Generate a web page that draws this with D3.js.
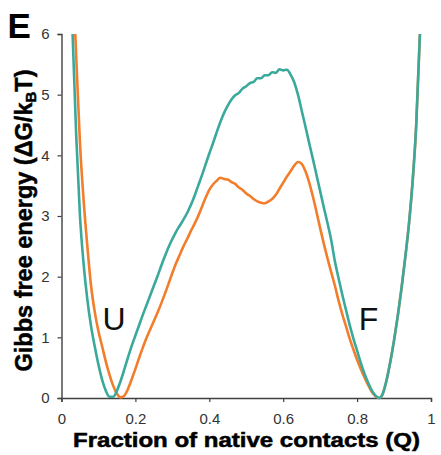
<!DOCTYPE html>
<html>
<head>
<meta charset="utf-8">
<script src="https://cdn.jsdelivr.net/npm/d3@7"></script>
<style>
  html, body { margin: 0; padding: 0; background: #fff; }
  svg { display: block; }
</style>
</head>
<body>
<svg id="chart" width="441" height="455"></svg>
<script>
// Fraction of native contacts (Q) sampled along the reaction coordinate
const fractionQ = [
  0.03, 0.04, 0.05, 0.06, 0.07, 0.08, 0.09, 0.10, 0.11, 0.12,
  0.13, 0.14, 0.15, 0.16, 0.17, 0.18, 0.19, 0.20, 0.21, 0.22,
  0.23, 0.24, 0.25, 0.26, 0.27, 0.28, 0.29, 0.30, 0.31, 0.32,
  0.33, 0.34, 0.35, 0.36, 0.37, 0.38, 0.39, 0.40, 0.41, 0.42,
  0.43, 0.44, 0.45, 0.46, 0.47, 0.48, 0.49, 0.50, 0.51, 0.52,
  0.53, 0.54, 0.55, 0.56, 0.57, 0.58, 0.59, 0.60, 0.61, 0.62,
  0.63, 0.64, 0.65, 0.66, 0.67, 0.68, 0.69, 0.70, 0.71, 0.72,
  0.73, 0.74, 0.75, 0.76, 0.77, 0.78, 0.79, 0.80, 0.81, 0.82,
  0.83, 0.84, 0.85, 0.86, 0.87, 0.88, 0.89, 0.90, 0.91, 0.92,
  0.93, 0.94, 0.95, 0.96, 0.97
];

// Free-energy profile, higher single barrier (teal)
const energyTeal = [
  6.00, 4.30, 3.00, 2.20, 1.62, 1.18, 0.85, 0.55, 0.30, 0.12,
  0.02, 0.02, 0.12, 0.28, 0.47, 0.67, 0.86, 1.03, 1.20, 1.37,
  1.53, 1.69, 1.85, 2.01, 2.18, 2.34, 2.49, 2.62, 2.74, 2.84,
  2.94, 3.05, 3.18, 3.33, 3.50, 3.67, 3.85, 4.03, 4.20, 4.38,
  4.55, 4.70, 4.82, 4.92, 4.99, 5.03, 5.10, 5.14, 5.19, 5.21,
  5.27, 5.27, 5.32, 5.32, 5.37, 5.36, 5.42, 5.40, 5.41, 5.33,
  5.20, 5.00, 4.74, 4.48, 4.21, 3.95, 3.68, 3.41, 3.14, 2.88,
  2.60, 2.25, 1.97, 1.70, 1.45, 1.20, 0.98, 0.78, 0.58, 0.40,
  0.25, 0.12, 0.04, 0.00, 0.08, 0.30, 0.60, 0.95, 1.35, 1.80,
  2.30, 2.85, 3.55, 4.50, 6.00
];

// Free-energy profile with an intermediate between two barriers (orange)
const energyOrange = [
  7.10, 5.60, 4.20, 3.25, 2.50, 1.85, 1.42, 1.10, 0.85, 0.60,
  0.38, 0.20, 0.07, 0.01, 0.04, 0.15, 0.31, 0.48, 0.66, 0.83,
  0.99, 1.13, 1.27, 1.41, 1.56, 1.72, 1.89, 2.06, 2.22, 2.36,
  2.50, 2.62, 2.75, 2.87, 3.00, 3.15, 3.30, 3.43, 3.52, 3.58,
  3.63, 3.61, 3.60, 3.56, 3.53, 3.47, 3.43, 3.37, 3.33, 3.28,
  3.24, 3.22, 3.21, 3.24, 3.28, 3.35, 3.45, 3.55, 3.65, 3.74,
  3.83, 3.89, 3.86, 3.74, 3.56, 3.33, 3.07, 2.80, 2.54, 2.30,
  2.07, 1.85, 1.60, 1.38, 1.18, 0.98, 0.80, 0.63, 0.48, 0.34,
  0.21, 0.10, 0.03, 0.00, 0.08, 0.30, 0.60, 0.95, 1.35, 1.80,
  2.30, 2.85, 3.55, 4.50, 6.00
];

const xTicks = [0, 0.2, 0.4, 0.6, 0.8, 1];
const xTickLabels = ["0", "0.2", "0.4", "0.6", "0.8", "1"];
const yTicks = [0, 1, 2, 3, 4, 5, 6];

const stateLabels = [
  { text: "U", q: 0.142 },
  { text: "F", q: 0.831 }
];

const svg = d3.select("#chart");
const W = 441, H = 455;
const plot = { left: 61.5, right: 431, top: 34, bottom: 398 };

svg.append("rect").attr("width", W).attr("height", H).attr("fill", "#fff");

const x = d3.scaleLinear().domain([0, 1]).range([plot.left, plot.right]);
const y = d3.scaleLinear().domain([0, 6]).range([plot.bottom, plot.top]);

svg.append("defs").append("clipPath").attr("id", "plotClip")
  .append("rect")
  .attr("x", plot.left).attr("y", plot.top)
  .attr("width", plot.right - plot.left).attr("height", plot.bottom - plot.top + 2);

const axisColor = "#404040";
const tickFont = "Liberation Sans, Arial, sans-serif";

// y axis
const yAxis = svg.append("g")
  .attr("transform", `translate(${plot.left},0)`)
  .call(d3.axisLeft(y).tickValues(yTicks).tickFormat(d3.format("d")).tickSize(4).tickPadding(8));
yAxis.select(".domain").attr("stroke", axisColor).attr("stroke-width", 1.4);
yAxis.selectAll(".tick line").attr("stroke", axisColor).attr("stroke-width", 1.2);
yAxis.selectAll(".tick text")
  .attr("fill", "#333").attr("font-family", tickFont).attr("font-size", 15);

// x axis
const xAxis = svg.append("g")
  .attr("transform", `translate(0,${plot.bottom})`)
  .call(d3.axisBottom(x).tickValues(xTicks)
    .tickFormat((d, i) => xTickLabels[i]).tickSize(4).tickPadding(11));
xAxis.select(".domain").attr("stroke", axisColor).attr("stroke-width", 1.4);
xAxis.selectAll(".tick line").attr("stroke", axisColor).attr("stroke-width", 1.2);
xAxis.selectAll(".tick text")
  .attr("fill", "#333").attr("font-family", tickFont).attr("font-size", 15);

// energy curves
const line = d3.line()
  .x((d, i) => x(fractionQ[i]))
  .y(d => y(d))
  .curve(d3.curveMonotoneX);

const curves = svg.append("g").attr("clip-path", "url(#plotClip)");
curves.append("path")
  .datum(energyOrange)
  .attr("d", line)
  .attr("fill", "none")
  .attr("stroke", "#f27d2b")
  .attr("stroke-width", 2.6)
  .attr("stroke-linejoin", "round");
curves.append("path")
  .datum(energyTeal)
  .attr("d", line)
  .attr("fill", "none")
  .attr("stroke", "#3aa99c")
  .attr("stroke-width", 2.6)
  .attr("stroke-linejoin", "round");

// state labels
svg.selectAll("text.state")
  .data(stateLabels)
  .enter().append("text")
  .attr("class", "state")
  .attr("x", d => x(d.q))
  .attr("y", 330)
  .attr("text-anchor", "middle")
  .attr("font-family", tickFont)
  .attr("font-size", 32)
  .attr("fill", "#111")
  .text(d => d.text);

// axis titles
const titleFont = "Liberation Sans, Arial, sans-serif";
svg.append("text")
  .attr("x", 246.5)
  .attr("y", 446.5)
  .attr("text-anchor", "middle")
  .attr("font-family", titleFont)
  .attr("font-weight", "bold")
  .attr("font-size", 19.5)
  .attr("textLength", 347)
  .attr("lengthAdjust", "spacingAndGlyphs")
  .attr("fill", "#000")
  .attr("stroke", "#000")
  .attr("stroke-width", 0.5)
  .text("Fraction of native contacts (Q)");

const yTitle = svg.append("text")
  .attr("transform", "translate(32,220.5) rotate(-90)")
  .attr("text-anchor", "middle")
  .attr("font-family", titleFont)
  .attr("font-weight", "bold")
  .attr("font-size", 23.5)
  .attr("fill", "#000")
  .attr("stroke", "#000")
  .attr("stroke-width", 0.5);
yTitle.append("tspan").text("Gibbs free energy (ΔG/k");
yTitle.append("tspan").attr("font-size", 15).attr("dy", 4).text("B");
yTitle.append("tspan").attr("dy", -4).text("T)");

// panel letter
svg.append("text")
  .attr("x", 7.5)
  .attr("y", 38)
  .attr("font-family", titleFont)
  .attr("font-weight", "bold")
  .attr("font-size", 35)
  .attr("fill", "#000")
  .text("E");
</script>
</body>
</html>
